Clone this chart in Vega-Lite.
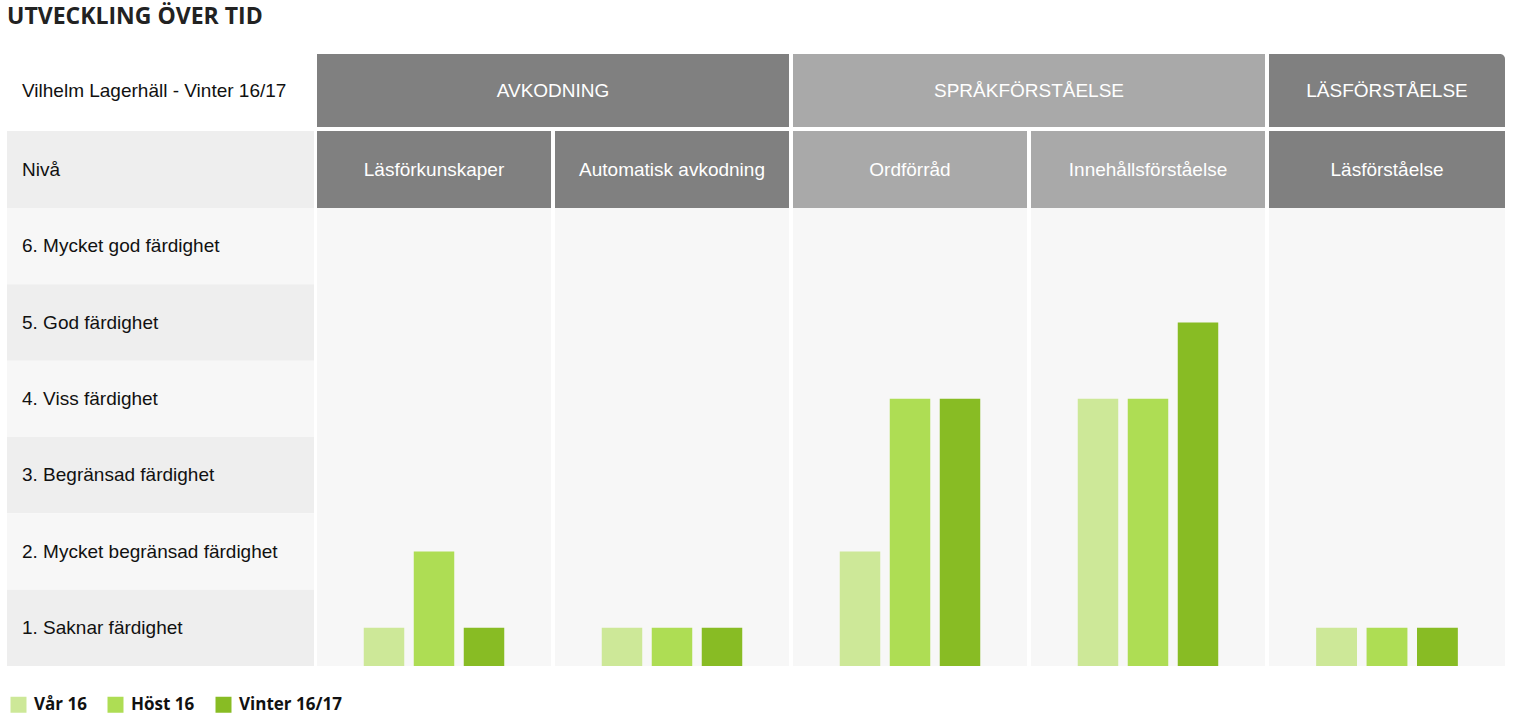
{
  "$schema": "https://vega.github.io/schema/vega-lite/v6.json",
  "background": "#ffffff",
  "padding": {"left": 7, "top": 6, "right": 8, "bottom": 6},
  "title": {"text": "UTVECKLING ÖVER TID", "anchor": "start", "font": "Open Sans", "fontSize": 23, "fontWeight": "bold", "color": "#222222", "offset": 25},
  "datasets": {
    "head": [{"elev": "Vilhelm Lagerhäll - Vinter 16/17", "rubrik": "Nivå"}],
    "levels": [
      {"niva": 6, "label": "6. Mycket god färdighet"},
      {"niva": 5, "label": "5. God färdighet"},
      {"niva": 4, "label": "4. Viss färdighet"},
      {"niva": 3, "label": "3. Begränsad färdighet"},
      {"niva": 2, "label": "2. Mycket begränsad färdighet"},
      {"niva": 1, "label": "1. Saknar färdighet"}
    ],
    "scores": [
      {"grupp": "AVKODNING", "amne": "Läsförkunskaper", "period": "Vår 16", "niva": 1},
      {"grupp": "AVKODNING", "amne": "Läsförkunskaper", "period": "Höst 16", "niva": 2},
      {"grupp": "AVKODNING", "amne": "Läsförkunskaper", "period": "Vinter 16/17", "niva": 1},
      {"grupp": "AVKODNING", "amne": "Automatisk avkodning", "period": "Vår 16", "niva": 1},
      {"grupp": "AVKODNING", "amne": "Automatisk avkodning", "period": "Höst 16", "niva": 1},
      {"grupp": "AVKODNING", "amne": "Automatisk avkodning", "period": "Vinter 16/17", "niva": 1},
      {"grupp": "SPRÅKFÖRSTÅELSE", "amne": "Ordförråd", "period": "Vår 16", "niva": 2},
      {"grupp": "SPRÅKFÖRSTÅELSE", "amne": "Ordförråd", "period": "Höst 16", "niva": 4},
      {"grupp": "SPRÅKFÖRSTÅELSE", "amne": "Ordförråd", "period": "Vinter 16/17", "niva": 4},
      {"grupp": "SPRÅKFÖRSTÅELSE", "amne": "Innehållsförståelse", "period": "Vår 16", "niva": 4},
      {"grupp": "SPRÅKFÖRSTÅELSE", "amne": "Innehållsförståelse", "period": "Höst 16", "niva": 4},
      {"grupp": "SPRÅKFÖRSTÅELSE", "amne": "Innehållsförståelse", "period": "Vinter 16/17", "niva": 5},
      {"grupp": "LÄSFÖRSTÅELSE", "amne": "Läsförståelse", "period": "Vår 16", "niva": 1},
      {"grupp": "LÄSFÖRSTÅELSE", "amne": "Läsförståelse", "period": "Höst 16", "niva": 1},
      {"grupp": "LÄSFÖRSTÅELSE", "amne": "Läsförståelse", "period": "Vinter 16/17", "niva": 1}
    ]
  },
  "spacing": 3,
  "resolve": {"scale": {"xOffset": "independent", "color": "shared"}},
  "hconcat": [
    {
      "spacing": 4,
      "vconcat": [
        {
          "width": 307, "height": 73,
          "data": {"name": "head"},
          "layer": [
            {"mark": {"type": "rect", "color": "#ffffff"}, "encoding": {}},
            {"mark": {"type": "text", "align": "left", "baseline": "middle", "dx": 15, "font": "Liberation Sans", "fontSize": 19, "color": "#111111"},
             "encoding": {"x": {"datum": 0, "type": "quantitative", "scale": {"domain": [0, 1]}, "axis": null}, "text": {"field": "elev"}}}
          ]
        },
        {
          "spacing": 0,
          "vconcat": [
            {
              "width": 307, "height": 77,
              "data": {"name": "head"},
              "layer": [
                {"mark": {"type": "rect", "color": "#eeeeee"}, "encoding": {}},
                {"mark": {"type": "text", "align": "left", "baseline": "middle", "dx": 15, "font": "Liberation Sans", "fontSize": 19, "color": "#111111"},
                 "encoding": {"x": {"datum": 0, "type": "quantitative", "scale": {"domain": [0, 1]}, "axis": null}, "text": {"field": "rubrik"}}}
              ]
            },
            {
              "width": 307, "height": 458,
              "data": {"name": "levels"},
              "encoding": {"y": {"field": "niva", "type": "ordinal", "sort": "descending", "scale": {"paddingInner": 0, "paddingOuter": 0}, "axis": null}},
              "layer": [
                {"mark": {"type": "rect"}, "encoding": {"fill": {"condition": {"test": "datum.niva % 2 === 1", "value": "#eeeeee"}, "value": "#f7f7f7"}}},
                {"mark": {"type": "text", "align": "left", "baseline": "middle", "dx": 15, "font": "Liberation Sans", "fontSize": 19, "color": "#111111"},
                 "encoding": {"x": {"datum": 0, "type": "quantitative", "scale": {"domain": [0, 1]}, "axis": null}, "text": {"field": "label"}}}
              ]
            }
          ]
        }
      ]
    },
    {
      "spacing": 4,
      "resolve": {"scale": {"xOffset": "independent", "color": "shared"}},
      "hconcat": [
        {
          "spacing": 4,
          "resolve": {"scale": {"xOffset": "independent", "color": "shared"}},
          "vconcat": [
            {
              "width": 472, "height": 73,
              "data": {"name": "scores"},
              "transform": [{"filter": "datum.grupp === 'AVKODNING'"}, {"aggregate": [{"op": "count", "as": "n"}], "groupby": ["grupp"]}],
              "layer": [
                {"mark": {"type": "rect", "color": "#808080"}, "encoding": {}},
                {"mark": {"type": "text", "baseline": "middle", "font": "Liberation Sans", "fontSize": 19, "color": "#ffffff"}, "encoding": {"text": {"field": "grupp"}}}
              ]
            },
            {
              "spacing": 0,
              "resolve": {"scale": {"xOffset": "independent", "color": "shared"}},
              "vconcat": [
                {
                  "width": 472, "height": 77,
                  "data": {"name": "scores"},
                  "transform": [{"filter": "datum.grupp === 'AVKODNING'"}, {"aggregate": [{"op": "count", "as": "n"}], "groupby": ["amne"]}],
                  "encoding": {"x": {"field": "amne", "type": "nominal", "scale": {"domain": ["Läsförkunskaper", "Automatisk avkodning"], "paddingInner": 0.0168, "paddingOuter": 0}, "axis": null}},
                  "layer": [
                    {"mark": {"type": "rect", "color": "#808080"}},
                    {"mark": {"type": "text", "baseline": "middle", "font": "Liberation Sans", "fontSize": 19, "color": "#ffffff"}, "encoding": {"text": {"field": "amne"}}}
                  ]
                },
                {
                  "width": 472, "height": 458,
                  "data": {"name": "scores"},
                  "transform": [{"filter": "datum.grupp === 'AVKODNING'"}],
                  "encoding": {"x": {"field": "amne", "type": "nominal", "scale": {"domain": ["Läsförkunskaper", "Automatisk avkodning"], "paddingInner": 0.0168, "paddingOuter": 0}, "axis": null}},
                  "layer": [
                    {"transform": [{"aggregate": [{"op": "count", "as": "n"}], "groupby": ["amne"]}], "mark": {"type": "rect", "color": "#f7f7f7"}},
                    {"mark": {"type": "bar"}, "encoding": {
                      "xOffset": {"field": "period", "type": "nominal", "scale": {"domain": ["Vår 16", "Höst 16", "Vinter 16/17"], "paddingInner": 0.19, "paddingOuter": 0.935}},
                      "y": {"field": "niva", "type": "quantitative", "scale": {"domain": [0.5, 6.5], "nice": false, "zero": false}, "axis": null},
                      "y2": {"datum": 0.5},
                      "color": {"field": "period", "type": "nominal", "scale": {"domain": ["Vår 16", "Höst 16", "Vinter 16/17"], "range": ["#cde898", "#aedd54", "#88bc24"]}, "title": null}
                    }}
                  ]
                }
              ]
            }
          ]
        },
        {
          "spacing": 4,
          "resolve": {"scale": {"xOffset": "independent", "color": "shared"}},
          "vconcat": [
            {
              "width": 472, "height": 73,
              "data": {"name": "scores"},
              "transform": [{"filter": "datum.grupp === 'SPRÅKFÖRSTÅELSE'"}, {"aggregate": [{"op": "count", "as": "n"}], "groupby": ["grupp"]}],
              "layer": [
                {"mark": {"type": "rect", "color": "#a9a9a9"}, "encoding": {}},
                {"mark": {"type": "text", "baseline": "middle", "font": "Liberation Sans", "fontSize": 19, "color": "#ffffff"}, "encoding": {"text": {"field": "grupp"}}}
              ]
            },
            {
              "spacing": 0,
              "resolve": {"scale": {"xOffset": "independent", "color": "shared"}},
              "vconcat": [
                {
                  "width": 472, "height": 77,
                  "data": {"name": "scores"},
                  "transform": [{"filter": "datum.grupp === 'SPRÅKFÖRSTÅELSE'"}, {"aggregate": [{"op": "count", "as": "n"}], "groupby": ["amne"]}],
                  "encoding": {"x": {"field": "amne", "type": "nominal", "scale": {"domain": ["Ordförråd", "Innehållsförståelse"], "paddingInner": 0.0168, "paddingOuter": 0}, "axis": null}},
                  "layer": [
                    {"mark": {"type": "rect", "color": "#a9a9a9"}},
                    {"mark": {"type": "text", "baseline": "middle", "font": "Liberation Sans", "fontSize": 19, "color": "#ffffff"}, "encoding": {"text": {"field": "amne"}}}
                  ]
                },
                {
                  "width": 472, "height": 458,
                  "data": {"name": "scores"},
                  "transform": [{"filter": "datum.grupp === 'SPRÅKFÖRSTÅELSE'"}],
                  "encoding": {"x": {"field": "amne", "type": "nominal", "scale": {"domain": ["Ordförråd", "Innehållsförståelse"], "paddingInner": 0.0168, "paddingOuter": 0}, "axis": null}},
                  "layer": [
                    {"transform": [{"aggregate": [{"op": "count", "as": "n"}], "groupby": ["amne"]}], "mark": {"type": "rect", "color": "#f7f7f7"}},
                    {"mark": {"type": "bar"}, "encoding": {
                      "xOffset": {"field": "period", "type": "nominal", "scale": {"domain": ["Vår 16", "Höst 16", "Vinter 16/17"], "paddingInner": 0.19, "paddingOuter": 0.935}},
                      "y": {"field": "niva", "type": "quantitative", "scale": {"domain": [0.5, 6.5], "nice": false, "zero": false}, "axis": null},
                      "y2": {"datum": 0.5},
                      "color": {"field": "period", "type": "nominal", "scale": {"domain": ["Vår 16", "Höst 16", "Vinter 16/17"], "range": ["#cde898", "#aedd54", "#88bc24"]}, "title": null}
                    }}
                  ]
                }
              ]
            }
          ]
        },
        {
          "spacing": 4,
          "resolve": {"scale": {"xOffset": "independent", "color": "shared"}},
          "vconcat": [
            {
              "width": 236, "height": 73,
              "data": {"name": "scores"},
              "transform": [{"filter": "datum.grupp === 'LÄSFÖRSTÅELSE'"}, {"aggregate": [{"op": "count", "as": "n"}], "groupby": ["grupp"]}],
              "layer": [
                {"mark": {"type": "rect", "color": "#808080", "cornerRadiusTopRight": 5}, "encoding": {}},
                {"mark": {"type": "text", "baseline": "middle", "font": "Liberation Sans", "fontSize": 19, "color": "#ffffff"}, "encoding": {"text": {"field": "grupp"}}}
              ]
            },
            {
              "spacing": 0,
              "resolve": {"scale": {"xOffset": "independent", "color": "shared"}},
              "vconcat": [
                {
                  "width": 236, "height": 77,
                  "data": {"name": "scores"},
                  "transform": [{"filter": "datum.grupp === 'LÄSFÖRSTÅELSE'"}, {"aggregate": [{"op": "count", "as": "n"}], "groupby": ["amne"]}],
                  "encoding": {"x": {"field": "amne", "type": "nominal", "scale": {"domain": ["Läsförståelse"], "paddingInner": 0, "paddingOuter": 0}, "axis": null}},
                  "layer": [
                    {"mark": {"type": "rect", "color": "#808080"}},
                    {"mark": {"type": "text", "baseline": "middle", "font": "Liberation Sans", "fontSize": 19, "color": "#ffffff"}, "encoding": {"text": {"field": "amne"}}}
                  ]
                },
                {
                  "width": 236, "height": 458,
                  "data": {"name": "scores"},
                  "transform": [{"filter": "datum.grupp === 'LÄSFÖRSTÅELSE'"}],
                  "encoding": {"x": {"field": "amne", "type": "nominal", "scale": {"domain": ["Läsförståelse"], "paddingInner": 0, "paddingOuter": 0}, "axis": null}},
                  "layer": [
                    {"transform": [{"aggregate": [{"op": "count", "as": "n"}], "groupby": ["amne"]}], "mark": {"type": "rect", "color": "#f7f7f7"}},
                    {"mark": {"type": "bar"}, "encoding": {
                      "xOffset": {"field": "period", "type": "nominal", "scale": {"domain": ["Vår 16", "Höst 16", "Vinter 16/17"], "paddingInner": 0.19, "paddingOuter": 0.935}},
                      "y": {"field": "niva", "type": "quantitative", "scale": {"domain": [0.5, 6.5], "nice": false, "zero": false}, "axis": null},
                      "y2": {"datum": 0.5},
                      "color": {"field": "period", "type": "nominal", "scale": {"domain": ["Vår 16", "Höst 16", "Vinter 16/17"], "range": ["#cde898", "#aedd54", "#88bc24"]}, "title": null}
                    }}
                  ]
                }
              ]
            }
          ]
        }
      ]
    }
  ],
  "config": {
    "view": {"stroke": null},
    "legend": {
      "orient": "none", "legendX": 3, "legendY": 642, "direction": "horizontal", "padding": 0,
      "symbolType": "square", "symbolSize": 256, "symbolStrokeWidth": 0, "symbolOpacity": 1,
      "labelFont": "Open Sans", "labelFontWeight": "bold", "labelFontSize": 17, "labelColor": "#111111",
      "columnPadding": 20, "labelOffset": 7
    }
  }
}
